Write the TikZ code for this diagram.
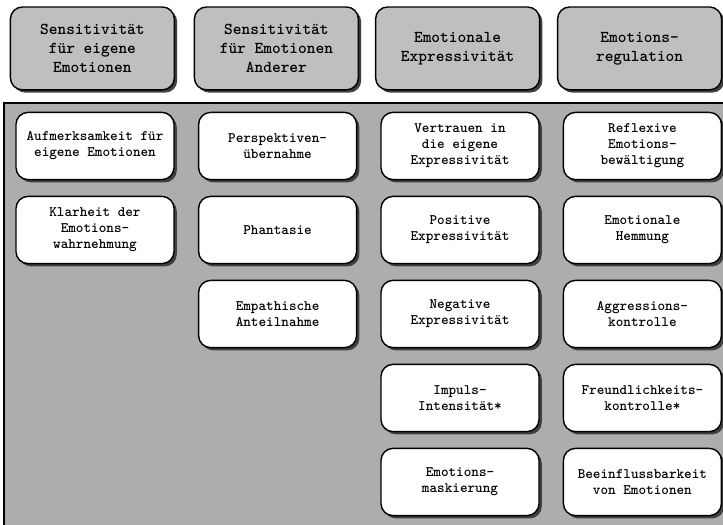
\documentclass[tikz,border=0pt]{standalone}
\usepackage{fontspec}
\usetikzlibrary{shadows}

\begin{document}
\begin{tikzpicture}
    [base/.style={rounded corners=0.3cm,draw=black,line width=1pt,align=center,
       drop shadow={shadow xshift=0.07cm,shadow yshift=-0.07cm,fill=black!75,opacity=1}},
     head/.style={base,fill=black!25,minimum width=4.1cm,minimum height=2.07cm,
       font=\ttfamily\bfseries\fontsize{11.8}{13.5}\selectfont},
     facet/.style={base,fill=white,minimum width=3.95cm,minimum height=1.68cm,
       font=\ttfamily\bfseries\fontsize{10.3}{11.4}\selectfont}]
    \useasboundingbox (0,0) rectangle (18.075,-13.1);
    \fill[white] (0,0) rectangle (18.075,-13.1);

    % Kopfzeile
    \node[head] (S1) at (2.31,-1.21) {Sensitivität\\für eigene\\Emotionen};
    \node[head] (S2) at (6.91,-1.21) {Sensitivität\\für Emotionen\\Anderer};
    \node[head] (S3) at (11.44,-1.21) {Emotionale\\Expressivität};
    \node[head] (S4) at (15.99,-1.21) {Emotions-\\regulation};

    % Hintergrundfeld
    \draw[fill=black!32,line width=1.2pt] (0.1,-2.575) rectangle (18.6,-13.6);

    % Spalte 1
    \node[facet] (A1) at (2.375,-3.65) {Aufmerksamkeit für\\eigene Emotionen};
    \node[facet] (A2) at (2.375,-5.75) {Klarheit der\\Emotions-\\wahrnehmung};

    % Spalte 2
    \node[facet] (B1) at (6.94,-3.65) {Perspektiven-\\übernahme};
    \node[facet] (B2) at (6.94,-5.75) {Phantasie};
    \node[facet] (B3) at (6.94,-7.85) {Empathische\\Anteilnahme};

    % Spalte 3
    \node[facet] (C1) at (11.5,-3.65) {Vertrauen in\\die eigene\\Expressivität};
    \node[facet] (C2) at (11.5,-5.75) {Positive\\Expressivität};
    \node[facet] (C3) at (11.5,-7.85) {Negative\\Expressivität};
    \node[facet] (C4) at (11.5,-9.95) {Impuls-\\Intensität*};
    \node[facet] (C5) at (11.5,-12.05) {Emotions-\\maskierung};

    % Spalte 4
    \node[facet] (D1) at (16.06,-3.65) {Reflexive\\Emotions-\\bewältigung};
    \node[facet] (D2) at (16.06,-5.75) {Emotionale\\Hemmung};
    \node[facet] (D3) at (16.06,-7.85) {Aggressions-\\kontrolle};
    \node[facet] (D4) at (16.06,-9.95) {Freundlichkeits-\\kontrolle*};
    \node[facet] (D5) at (16.06,-12.05) {Beeinflussbarkeit\\von Emotionen};
  \end{tikzpicture}
\end{document}
